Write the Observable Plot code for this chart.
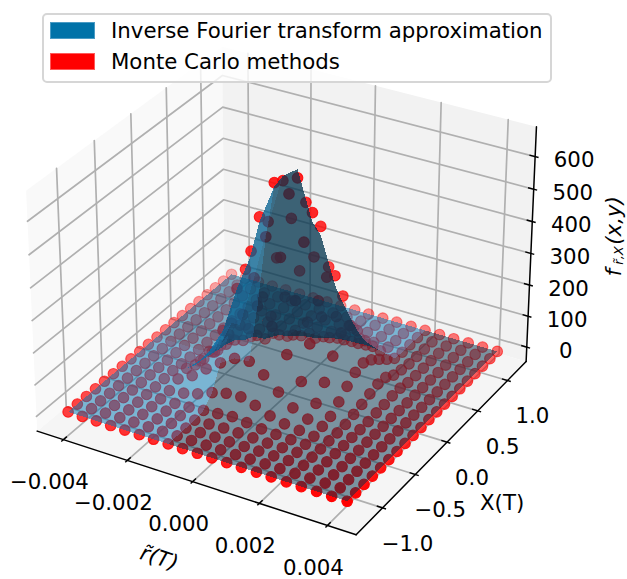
<!DOCTYPE html>
<html><head><meta charset="utf-8">
<script src="https://cdn.jsdelivr.net/npm/d3@7"></script>
<script src="https://cdn.jsdelivr.net/npm/@observablehq/plot@0.6"></script>
<style>
html,body{margin:0;padding:0;background:#fff}
#wrap{position:relative;width:627px;height:579px;overflow:hidden;font-family:"DejaVu Sans",sans-serif}
#legend{position:absolute;left:42px;top:13px;width:506px;height:66px;border:2px solid #d6d6d6;border-radius:5px;background:rgba(255,255,255,.8)}
#legend .sw{position:absolute;left:6px;width:45px;height:17px}
#legend .lb{position:absolute;left:67px;font-size:21.3px;line-height:24px;white-space:nowrap;color:#000}
</style></head><body>
<div id="wrap">
<div id="chart"></div>
<div id="legend">
 <div class="sw" style="top:7px;background:#0072a8;border:1px solid #4a9bc4;box-sizing:border-box"></div><div class="lb" style="top:4px">Inverse Fourier transform approximation</div>
 <div class="sw" style="top:38px;background:#ff0000;border:1px solid #ff5a5a;box-sizing:border-box"></div><div class="lb" style="top:35px">Monte Carlo methods</div>
</div>
</div>
<script>
// ---- data ----
const rValues = [-0.00423,-0.00378,-0.00334,-0.00289,-0.00245,-0.00200,-0.00156,-0.00111,-0.00067,-0.00022,0.00022,0.00067,0.00111,0.00156,0.00200,0.00245,0.00289,0.00334,0.00378,0.00423];
const xValues = [-1.222,-1.097,-0.973,-0.848,-0.723,-0.598,-0.473,-0.349,-0.224,-0.099,0.026,0.151,0.276,0.400,0.525,0.650,0.775,0.901,1.026,1.151];
// Monte Carlo density: one row per X value, one column per r value
const density = [
 [0,0,0,0,0,0,0,0,0,0,0,0,0,0,0,0,0,0,0,0],
 [0,0,0,0,0,0,0,0,0,0,0,0,0,0,0,0,0,0,0,0],
 [0,0,0,0,0,0,0,0,0,0,0,0,0,0,0,0,0,0,0,0],
 [0,0,0,0,0,0,0,0,2,4,3,2,0,0,0,0,0,0,0,0],
 [0,0,0,0,0,0,2,6,10,15,10,5,2,0,0,0,0,0,0,0],
 [0,0,0,0,2,8,20,38,50,53,40,21,10,4,0,0,0,0,0,0],
 [0,0,0,2,15,40,75,108,136,141,112,72,36,15,6,0,0,0,0,0],
 [0,0,0,4,25,65,105,175,250,290,240,166,95,40,13,2,0,0,0,0],
 [0,0,0,2,12,70,150,295,423,480,430,310,189,82,34,9,0,0,0,0],
 [0,0,0,0,8,50,150,332,506,622,600,467,300,141,59,16,3,0,0,0],
 [0,0,0,0,6,45,120,283,470,607,627,535,350,190,79,25,5,0,0,0],
 [0,0,0,0,4,35,85,200,336,471,532,471,332,190,85,32,8,0,0,0],
 [0,0,0,0,0,10,40,115,190,286,342,324,246,150,71,29,8,0,0,0],
 [0,0,0,0,0,0,5,32,45,100,130,145,130,95,49,12,2,0,0,0],
 [0,0,0,0,0,0,0,4,19,25,40,47,49,53,25,5,0,0,0,0],
 [0,0,0,0,0,0,0,0,3,6,15,18,20,15,4,0,0,0,0,0],
 [0,0,0,0,0,0,0,0,0,0,2,4,5,3,0,0,0,0,0,0],
 [0,0,0,0,0,0,0,0,0,0,0,0,0,0,0,0,0,0,0,0],
 [0,0,0,0,0,0,0,0,0,0,0,0,0,0,0,0,0,0,0,0],
 [0,0,0,0,0,0,0,0,0,0,0,0,0,0,0,0,0,0,0,0]
];
// where the Fourier surface differs from the Monte Carlo points: [r index, X index, difference]
const surfaceDiff = [[10,10,26],[9,10,14],[9,9,-12],[8,9,-14],[10,9,-8],[11,10,-30],[11,11,-26],[10,11,-28],[7,9,-15],[8,8,-12],[12,11,-28],[12,12,-22],[11,12,-24],[8,10,-10],[12,10,-20]];
const rTicks = [-0.004,-0.002,0,0.002,0.004];
const rTickLabels = ["−0.004","−0.002","0.000","0.002","0.004"];
const xTicks = [-1,-0.5,0,0.5,1];
const xTickLabels = ["−1.0","−0.5","0.0","0.5","1.0"];
const fTicks = [0,100,200,300,400,500,600];
const fTickLabels = ["0","100","200","300","400","500","600"];
const rLim = [-0.00483,0.00483], xLim = [-1.392,1.321], fLim = [-47,690];

// ---- mplot3d camera (elev 30, azim -60, dist 10, box aspect 4:4:3) ----
const hx = 0.5714, hz = 0.4286, dist = 10;
const el = 30*Math.PI/180, az = -60*Math.PI/180;
const w = [Math.cos(el)*Math.cos(az), Math.cos(el)*Math.sin(az), Math.sin(el)];
const n0 = Math.hypot(w[1],w[0]);
const u = [-w[1]/n0, w[0]/n0, 0];
const v = [w[1]*u[2]-w[2]*u[1], w[2]*u[0]-w[0]*u[2], w[0]*u[1]-w[1]*u[0]];
const dot3 = (a,b)=>a[0]*b[0]+a[1]*b[1]+a[2]*b[2];
const world = (r,x,f)=>[
  ((r-rLim[0])/(rLim[1]-rLim[0])-.5)*2*hx,
  ((x-xLim[0])/(xLim[1]-xLim[0])-.5)*2*hx,
  ((f-fLim[0])/(fLim[1]-fLim[0])-.5)*2*hz];
const proj = (r,x,f)=>{const d=world(r,x,f), W=dist-dot3(w,d); return {px:dot3(u,d)/W, py:dot3(v,d)/W, depth:W};};

// ---- panes ----
const [r0,r1]=rLim,[x0,x1]=xLim,[f0,f1]=fLim;
const poly=(id,pts,fill)=>pts.map(p=>({id,fill,...proj(...p)}));
const panes=[
 ...poly("left",[[r0,x0,f0],[r0,x1,f0],[r0,x1,f1],[r0,x0,f1]],"#f9f9f9"),
 ...poly("back",[[r0,x1,f0],[r1,x1,f0],[r1,x1,f1],[r0,x1,f1]],"#f2f2f2"),
 ...poly("floor",[[r0,x0,f0],[r1,x0,f0],[r1,x1,f0],[r0,x1,f0]],"#f5f5f5")
];
// ---- grid ----
const grid=[
 ...rTicks.flatMap(t=>poly("r"+t,[[t,x0,f0],[t,x1,f0],[t,x1,f1]])),
 ...xTicks.flatMap(t=>poly("x"+t,[[r1,t,f0],[r0,t,f0],[r0,t,f1]])),
 ...fTicks.flatMap(t=>poly("f"+t,[[r0,x0,t],[r0,x1,t],[r1,x1,t]]))
];
const axes=[
 ...poly("ax",[[r0,x0,f0],[r1,x0,f0]]),
 ...poly("ay",[[r1,x0,f0],[r1,x1,f0]]),
 ...poly("az",[[r1,x1,f0],[r1,x1,f1]])
];
const dr=(r1-r0)/1.1428, dX=(x1-x0)/1.1428;
const seg=(a,b)=>{const p=proj(...a),q=proj(...b);return {x1:p.px,y1:p.py,x2:q.px,y2:q.py};};
const tickSegs=[
 ...rTicks.map(t=>seg([t,x0-.012*dX,f0],[t,x0+.02*dX,f0])),
 ...xTicks.map(t=>seg([r1+.012*dr,t,f0],[r1-.02*dr,t,f0])),
 ...fTicks.map(t=>seg([r1+.012*dr,x1,t],[r1-.02*dr,x1,t]))
];
const lab=(vals,labels,fn)=>vals.map((t,i)=>({label:labels[i],...proj(...fn(t))}));
const rLabels=lab(rTicks,rTickLabels,t=>[t,x0,f0]);
const xLabels=lab(xTicks,xTickLabels,t=>[r1,t,f0]);
const fLabels=lab(fTicks,fTickLabels,t=>[r1,x1,t]);

// ---- scatter ----
const pts=[];
density.forEach((row,j)=>row.forEach((f,i)=>pts.push(proj(rValues[i],xValues[j],f))));
const dMin=d3.min(pts,d=>d.depth), dMax=d3.max(pts,d=>d.depth);
pts.forEach(d=>d.alpha=1-(d.depth-dMin)/(dMax-dMin)*.7);
pts.sort((a,b)=>b.depth-a.depth);

// ---- surface ----
const surfaceZ=density.map(row=>row.slice());
surfaceDiff.forEach(([i,j,d])=>surfaceZ[j][i]+=d);
const base=[0,118,178];
const cells=[];
for(let j=0;j<19;j++)for(let i=0;i<19;i++){
  const c=[[i,j],[i+1,j],[i+1,j+1],[i,j+1]].map(([a,b])=>[rValues[a],xValues[b],surfaceZ[b][a]]);
  const zmax=d3.max(c,p=>p[2]);
  let s;
  if(i<7) s=1; else s=.42;
  if(j>=15&&i<=13) s=1;
  if(i<7&&j>=10) s=.8;
  if(zmax>20&&j>=9&&i<8) s=.45;
  if(zmax>200&&i<9&&j<10) s=.8;
  const fill=`rgb(${base.map(b=>Math.round(b*s)).join(",")})`;
  const P=c.map(p=>proj(...p));
  const depth=d3.mean(P,d=>d.depth);
  cells.push({id:i+"_"+j,fill,P,depth});
}
cells.sort((a,b)=>b.depth-a.depth);
const surf=cells.flatMap(c=>c.P.map(p=>({id:c.id,fill:c.fill,px:p.px,py:p.py})));

const S=3198, ox=285.5, oy=279;
const font={fontFamily:"DejaVu Sans",fontSize:21.3,fill:"#000",lineAnchor:"middle",stroke:"none"};
const zAnchor=proj(r1,x1,300);
const chart=Plot.plot({
  width:627,height:579,margin:0,
  style:{background:"transparent",overflow:"visible"},
  x:{domain:[-ox/S,(627-ox)/S],range:[0,627],axis:null},
  y:{domain:[oy/S,(oy-579)/S],range:[0,579],axis:null},
  marks:[
   Plot.line(panes,{x:"px",y:"py",z:"id",fill:"fill",stroke:"none",curve:"linear-closed"}),
   Plot.line(grid,{x:"px",y:"py",z:"id",stroke:"#b0b0b0",strokeWidth:1.7}),
   Plot.line(axes,{x:"px",y:"py",z:"id",stroke:"#000",strokeWidth:1.5}),
   Plot.link(tickSegs,{x1:"x1",y1:"y1",x2:"x2",y2:"y2",stroke:"#000",strokeWidth:1.4}),
   Plot.dot(pts,{x:"px",y:"py",r:5.3,fill:"#f00",stroke:"#f00",strokeWidth:1.1,
     fillOpacity:{value:"alpha",scale:null},strokeOpacity:{value:"alpha",scale:null}}),
   Plot.line(surf,{x:"px",y:"py",z:"id",fill:"fill",stroke:"none",fillOpacity:.5,curve:"linear-closed",shapeRendering:"crispEdges"}),
   Plot.text(rLabels,{x:"px",y:"py",text:"label",dx:-14,dy:43,...font}),
   Plot.text(xLabels,{x:"px",y:"py",text:"label",dx:25,dy:36,...font}),
   Plot.text(fLabels,{x:"px",y:"py",text:"label",dx:39,dy:4,...font}),
   Plot.text([proj(r0,x0,f0)],{x:"px",y:"py",text:()=>"r̃(T)",dx:122,dy:127,rotate:18,fontStyle:"italic",...font}),
   Plot.text([proj(r1,x0,f0)],{x:"px",y:"py",text:()=>"X(T)",dx:146,dy:-32,...font}),
   Plot.text([zAnchor],{x:"px",y:"py",text:()=>"f",dx:83,dy:19,rotate:-90,fontStyle:"italic",...font}),
   Plot.text([zAnchor],{x:"px",y:"py",text:()=>"r̃,X",dx:88,dy:2,rotate:-90,fontStyle:"italic",...font,fontSize:13}),
   Plot.text([zAnchor],{x:"px",y:"py",text:()=>"(x,y)",dx:83,dy:-33,rotate:-90,fontStyle:"italic",...font})
  ]
});
document.getElementById("chart").appendChild(chart);
</script>
</body></html>
